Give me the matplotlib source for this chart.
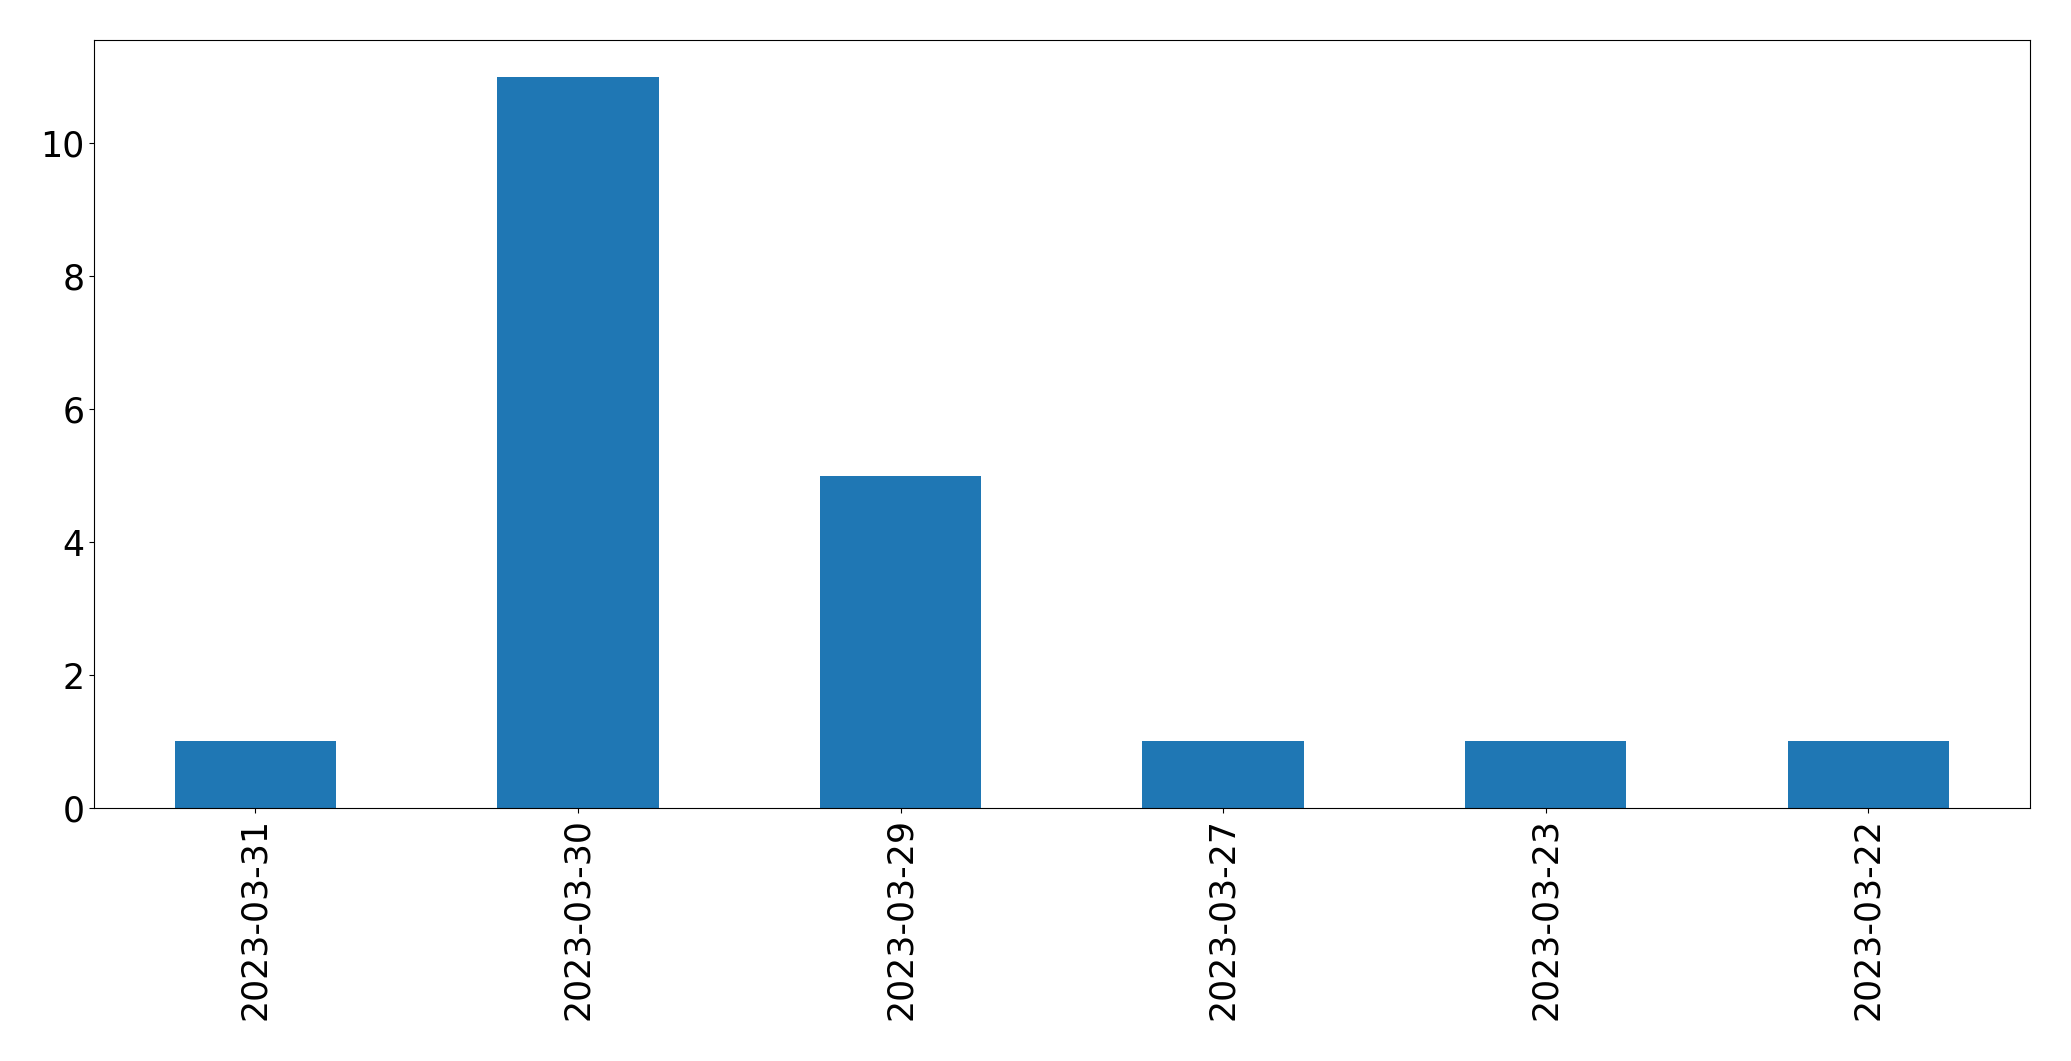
import pandas as pd
import matplotlib.pyplot as plt

dates = ['2023-03-31', '2023-03-30', '2023-03-29', '2023-03-27', '2023-03-23', '2023-03-22']
counts = [1, 11, 5, 1, 1, 1]

s = pd.Series(counts, index=dates)

fig = plt.figure(figsize=(20.71, 10.61), dpi=100)
ax = fig.add_axes([0.0454, 0.2385, 0.9346, 0.7235])
s.plot(kind='bar', ax=ax, color='#1f77b4', fontsize=25)

plt.savefig('out.png', dpi=100)
